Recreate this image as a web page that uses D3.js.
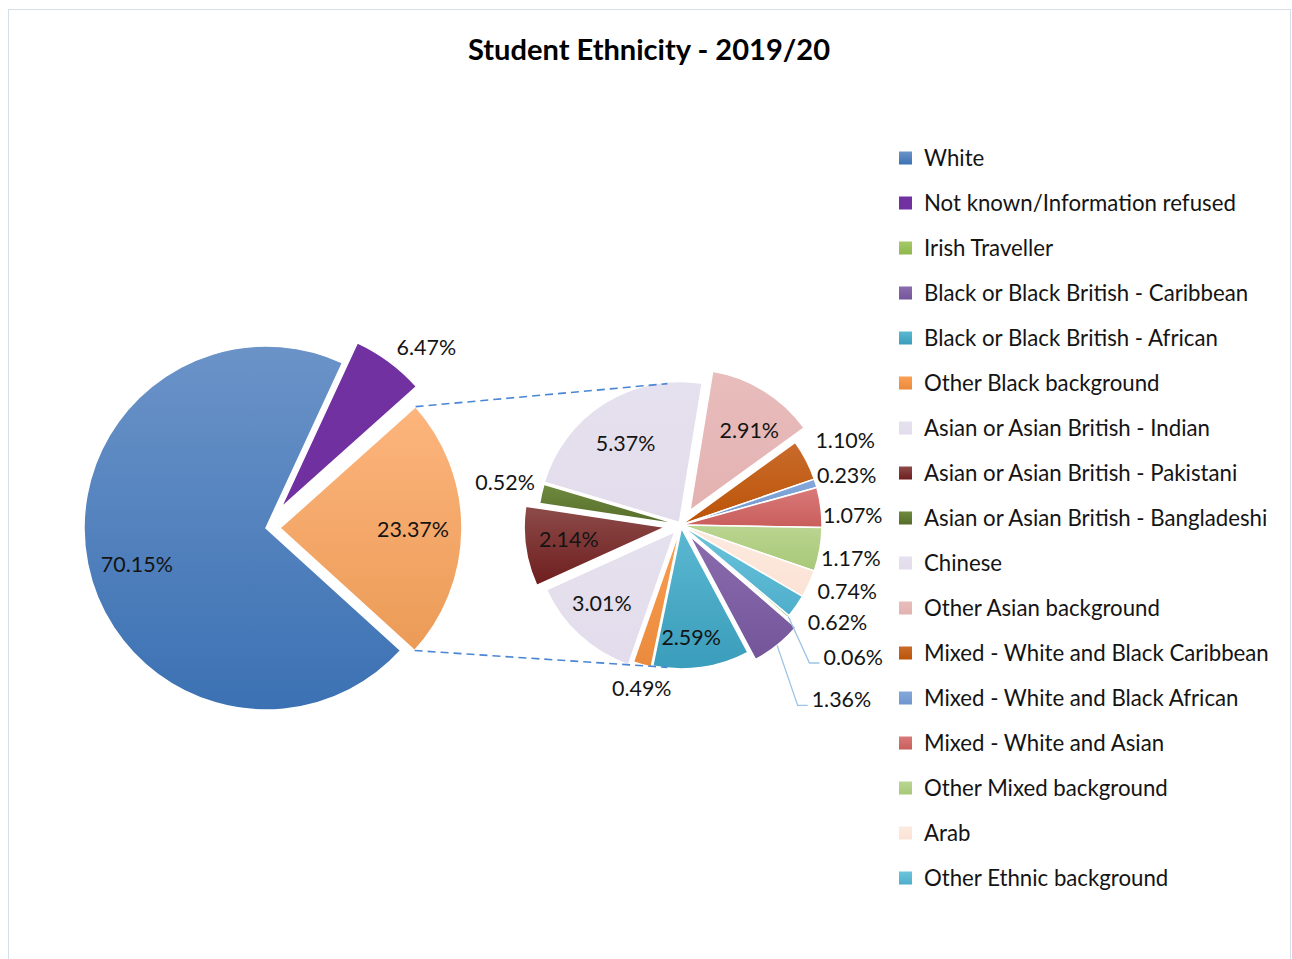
<!DOCTYPE html>
<html>
<head>
<meta charset="utf-8">
<script src="https://cdn.jsdelivr.net/npm/d3@7"></script>
<style>
  body { margin: 0; background: #fff; }
  svg { display: block; }
</style>
</head>
<body>
<svg id="chart" width="1292" height="959"></svg>
<script>
// ---- data ----
const mainCategories = ["White", "Not known/Information refused", "Other"];
const mainValues = [70.15, 6.47, 23.37];

const otherCategories = [
  "Irish Traveller",
  "Black or Black British - Caribbean",
  "Black or Black British - African",
  "Other Black background",
  "Asian or Asian British - Indian",
  "Asian or Asian British - Pakistani",
  "Asian or Asian British - Bangladeshi",
  "Chinese",
  "Other Asian background",
  "Mixed - White and Black Caribbean",
  "Mixed - White and Black African",
  "Mixed - White and Asian",
  "Other Mixed background",
  "Arab",
  "Other Ethnic background"
];
const otherValues = [0.06, 1.36, 2.59, 0.49, 3.01, 2.14, 0.52, 5.37, 2.91, 1.10, 0.23, 1.07, 1.17, 0.74, 0.62];

const legendCategories = mainCategories.slice(0, 2).concat(otherCategories);

// ---- styles ----
// [top, bottom] colours for the vertical gradient fill of each slice
const fills = {
  "White": ["#6b93c8", "#3b71b3"],
  "Not known/Information refused": ["#7131a1", "#7030a0"],
  "Other": ["#fdb57d", "#eb9b56"],
  "Irish Traveller": ["#a6c968", "#8fb84d"],
  "Black or Black British - Caribbean": ["#8a6cae", "#74559a"],
  "Black or Black British - African": ["#5bb8d1", "#3a9dbb"],
  "Other Black background": ["#fb9f52", "#ea8a3c"],
  "Asian or Asian British - Indian": ["#e6e1ee", "#e2dcec"],
  "Asian or Asian British - Pakistani": ["#8c4b49", "#6e1e1e"],
  "Asian or Asian British - Bangladeshi": ["#6f8b3f", "#566c29"],
  "Chinese": ["#e6e1ee", "#e2dcec"],
  "Other Asian background": ["#e8bdbc", "#e3b2b1"],
  "Mixed - White and Black Caribbean": ["#c96b2c", "#bb5306"],
  "Mixed - White and Black African": ["#84a8da", "#6f96cf"],
  "Mixed - White and Asian": ["#d97a79", "#c85e5c"],
  "Other Mixed background": ["#bad590", "#a8c878"],
  "Arab": ["#fdeadf", "#fbe3d5"],
  "Other Ethnic background": ["#6cc4dc", "#4eaecb"]
};

// explode distance (px) per slice
const mainExplode = { "White": 0, "Not known/Information refused": 25, "Other": 14 };
const otherExplode = {
  "Black or Black British - Caribbean": 13,
  "Black or Black British - African": 3,
  "Other Black background": 4,
  "Asian or Asian British - Indian": 9,
  "Asian or Asian British - Pakistani": 16,
  "Asian or Asian British - Bangladeshi": 2,
  "Chinese": 3,
  "Other Asian background": 17
};

// label placement: distance from pie centre and small angular nudge (deg)
const mainLabelPos = {
  "White": [134, -4],
  "Not known/Information refused": [242, 5],
  "Other": [147, 0]
};
const otherLabelPos = {
  "Irish Traveller": [217, -3, true],
  "Black or Black British - Caribbean": [237, -4, true],
  "Black or Black British - African": [112, 3],
  "Other Black background": [168, -2],
  "Asian or Asian British - Indian": [111, 3],
  "Asian or Asian British - Pakistani": [113, 1],
  "Asian or Asian British - Bangladeshi": [181, 1],
  "Chinese": [99, -2],
  "Other Asian background": [117, 4],
  "Mixed - White and Black Caribbean": [185, 0],
  "Mixed - White and Black African": [173, 0.5],
  "Mixed - White and Asian": [172, 4],
  "Other Mixed background": [173, 1],
  "Arab": [179, -3],
  "Other Ethnic background": [184, -3.5]
};

const FONT = "Lato, 'Open Sans', sans-serif";
const TEXT_COLOR = "#141414";

// size a font so that a sample string spans a given width
const ctx = document.createElement("canvas").getContext("2d");
function fitSize(sample, width, weight) {
  ctx.font = `${weight} 100px ${FONT}`;
  return 100 * width / ctx.measureText(sample).width;
}
const titleSize = fitSize("Student Ethnicity - 2019/20", 363, "bold");
const labelSize = fitSize("70.15%", 72, "normal");
const legendSize = fitSize("Not known/Information refused", 312, "normal");

const svg = d3.select("#chart");
const defs = svg.append("defs");

// chart area frame
svg.append("rect")
  .attr("x", 8.5).attr("y", 9.5)
  .attr("width", 1282).attr("height", 960)
  .attr("fill", "#fff")
  .attr("stroke", "#d6dfe8").attr("stroke-width", 1);

// gradients
const gradId = name => "g" + Object.keys(fills).indexOf(name);
Object.entries(fills).forEach(([name, [top, bottom]]) => {
  const g = defs.append("linearGradient")
    .attr("id", gradId(name))
    .attr("x1", 0).attr("y1", 0).attr("x2", 0).attr("y2", 1);
  g.append("stop").attr("offset", "0%").attr("stop-color", top);
  g.append("stop").attr("offset", "100%").attr("stop-color", bottom);
});

// title
svg.append("text")
  .attr("x", 649).attr("y", 48)
  .attr("text-anchor", "middle").attr("dominant-baseline", "central")
  .attr("font-family", FONT).attr("font-weight", "bold")
  .attr("font-size", titleSize).attr("fill", "#000")
  .text("Student Ethnicity - 2019/20");

const rad = d => d * Math.PI / 180;
const polar = (cx, cy, r, a) => [cx + r * Math.sin(a), cy - r * Math.cos(a)];
const mid = d => (d.startAngle + d.endAngle) / 2;

// ---- primary pie ----
const main = { cx: 266, cy: 528, r: 182 };
const mainPie = d3.pie().sort(null).value(d => d.value)
  .startAngle(rad(132.3)).endAngle(rad(132.3) + 2 * Math.PI);
const mainArcs = mainPie(mainCategories.map((c, i) => ({ name: c, value: mainValues[i] })));
const mainArc = d3.arc().innerRadius(0).outerRadius(main.r);

const gMain = svg.append("g").attr("transform", `translate(${main.cx},${main.cy})`);
gMain.selectAll("path").data(mainArcs).join("path")
  .attr("transform", d => {
    const e = mainExplode[d.data.name];
    const [x, y] = polar(0, 0, e, mid(d));
    return `translate(${x},${y})`;
  })
  .attr("d", mainArc)
  .attr("fill", d => `url(#${gradId(d.data.name)})`)
  .attr("stroke", "#fff").attr("stroke-width", 1.5);

gMain.selectAll("text").data(mainArcs).join("text")
  .each(function (d) {
    const [dist, nudge] = mainLabelPos[d.data.name];
    const [x, y] = polar(0, 0, dist, mid(d) + rad(nudge));
    d3.select(this).attr("x", x).attr("y", y);
  })
  .attr("text-anchor", "middle").attr("dominant-baseline", "central")
  .attr("font-family", FONT).attr("font-size", labelSize).attr("fill", TEXT_COLOR)
  .text(d => d.data.value.toFixed(2) + "%");

// ---- secondary pie ----
const sub = { cx: 681, cy: 525, r: 141 };
const subPie = d3.pie().sort(null).value(d => d.value)
  .startAngle(rad(130)).endAngle(rad(130) + 2 * Math.PI);
const subArcs = subPie(otherCategories.map((c, i) => ({ name: c, value: otherValues[i] })));
const subArc = d3.arc().innerRadius(0).outerRadius(sub.r);

const gSub = svg.append("g").attr("transform", `translate(${sub.cx},${sub.cy})`);
gSub.selectAll("path").data(subArcs).join("path")
  .attr("transform", d => {
    const e = otherExplode[d.data.name] || 0;
    const [x, y] = polar(0, 0, e, mid(d));
    return `translate(${x},${y})`;
  })
  .attr("d", subArc)
  .attr("fill", d => `url(#${gradId(d.data.name)})`)
  .attr("stroke", "#fff").attr("stroke-width", 1.5);

// connector lines from the "Other" slice to the secondary pie
const otherSlice = mainArcs[2];
const oe = mainExplode["Other"];
const [ox, oy] = polar(main.cx, main.cy, oe, mid(otherSlice));
const cTop = polar(ox, oy, main.r, otherSlice.startAngle);
const cBot = polar(ox, oy, main.r, otherSlice.endAngle);
const sTop = polar(sub.cx, sub.cy, sub.r + 1, rad(-5.5));
const sBot = polar(sub.cx, sub.cy, sub.r + 2, rad(185.5));
svg.append("g")
  .selectAll("line").data([[cTop, sTop], [cBot, sBot]]).join("line")
  .attr("x1", d => d[0][0]).attr("y1", d => d[0][1])
  .attr("x2", d => d[1][0]).attr("y2", d => d[1][1])
  .attr("stroke", "#4a86d4").attr("stroke-width", 1.6)
  .attr("stroke-dasharray", "8,5");

// labels (some with leader lines)
const subLabels = gSub.selectAll("g.lbl").data(subArcs).join("g").attr("class", "lbl");
subLabels.each(function (d) {
  const [dist, nudge, leader] = otherLabelPos[d.data.name];
  const [x, y] = polar(0, 0, dist, mid(d) + rad(nudge));
  const g = d3.select(this);
  const t = g.append("text")
    .attr("x", x).attr("y", y)
    .attr("text-anchor", "middle").attr("dominant-baseline", "central")
    .attr("font-family", FONT).attr("font-size", labelSize).attr("fill", TEXT_COLOR)
    .text(d.data.value.toFixed(2) + "%");
  if (leader) {
    const w = t.node().getComputedTextLength();
    const e = otherExplode[d.data.name] || 0;
    const start = polar(0, 0, sub.r + e, mid(d));
    const end = [x - w / 2 - 4, y + 6];
    const bend = [end[0] - 10, end[1]];
    g.insert("polyline", "text")
      .attr("points", [start, bend, end].map(p => p.join(",")).join(" "))
      .attr("fill", "none").attr("stroke", "#9dc3e6").attr("stroke-width", 1.3);
  }
});

// ---- legend ----
const legend = svg.append("g").attr("transform", "translate(899,158)");
const li = legend.selectAll("g").data(legendCategories).join("g")
  .attr("transform", (d, i) => `translate(0,${i * 45})`);
li.append("rect")
  .attr("x", 0).attr("y", -6.5).attr("width", 13).attr("height", 13)
  .attr("fill", d => `url(#${gradId(d)})`);
li.append("text")
  .attr("x", 25).attr("y", -0.5)
  .attr("dominant-baseline", "central")
  .attr("font-family", FONT).attr("font-size", legendSize).attr("fill", TEXT_COLOR)
  .text(d => d);
</script>
</body>
</html>
